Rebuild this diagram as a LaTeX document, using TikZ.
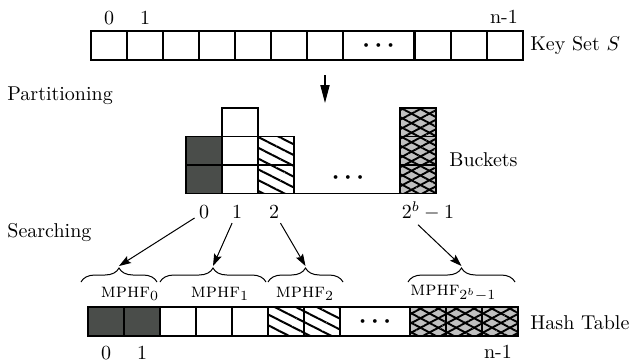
\documentclass[tikz,border=0pt]{standalone}
\usetikzlibrary{arrows.meta,patterns.meta,decorations.pathreplacing}
\definecolor{darkc}{RGB}{74,77,74}
\definecolor{grayc}{RGB}{192,192,192}
\newcommand{\mydots}{{\large\boldmath$\cdots$}}
\begin{document}
\begin{tikzpicture}[x=0.5pt,y=-0.5pt,
 cell/.style={draw,line width=0.7pt,minimum width=18pt,minimum height=14.5pt,inner sep=0pt,outer sep=0pt,anchor=north west},
 bcell/.style={cell,minimum height=14.25pt},
 wide/.style={minimum width=35.5pt},
 darkcell/.style={fill=darkc},
 hatch/.style={preaction={pattern={Lines[angle=-27,distance=4.8pt,line width=1pt]}}},
 cross/.style={preaction={fill=grayc},preaction={pattern={Lines[angle=28,distance=4.2pt,line width=0.95pt]}},preaction={pattern={Lines[angle=-28,distance=4.2pt,line width=0.95pt]}}},
 idx/.style={inner sep=0pt},
 lab/.style={anchor=west,inner sep=0pt},
 blab/.style={inner sep=2pt},
 mp/.style={inner sep=0pt},
 arr/.style={-{Stealth[length=6pt,width=4pt,inset=1pt]},line width=0.5pt},
 bigarr/.style={-{Triangle[length=9pt,width=4.6pt]},line width=0.6pt},
 brc/.style={decorate,decoration={brace,amplitude=7pt},line width=0.5pt},
 ]
\useasboundingbox (0,0) rectangle (637,361);
% key set
\foreach \i [count=\k] in {0,...,6} { \node[cell] (k\k) at ({91+36*\i},31) {}; }
\node[cell,wide] (kd) at (343,31) {\mydots};
\node[cell] (k8) at (415,31) {};
\node[cell] (k9) at (451,31) {};
\node[cell] (k10) at (487,31) {};
\node[idx] (ki0) at (109,18) {0};
\node[idx] (ki1) at (145,18) {1};
\node[idx] (kin) at (504,17) {n-1};
\node[lab] (keyset) at (530,45) {Key Set $S$};
% arrow
\coordinate (a1) at (325,75);
\coordinate (a2) at (325,103);
\draw[bigarr] (a1) -- (a2);
\node[lab] (part) at (7,96) {Partitioning};
% buckets
\node[bcell,darkcell] (b0a) at (186,136.5) {};
\node[bcell,darkcell] (b0b) at (186,165) {};
\node[bcell] (b1a) at (222,108) {};
\node[bcell] (b1b) at (222,136.5) {};
\node[bcell] (b1c) at (222,165) {};
\node[bcell,hatch] (b2a) at (258,136.5) {};
\node[bcell,hatch] (b2b) at (258,165) {};
\node[bcell,cross] (b3a) at (400,108) {};
\node[bcell,cross] (b3b) at (400,136.5) {};
\node[bcell,cross] (b3c) at (400,165) {};
\draw[line width=0.7pt] (b2b.south east) -- (b3c.south west);
\node (bdots) at (348,178) {\mydots};
\node[lab] (buckets) at (449,160) {Buckets};
\node[blab] (bl0) at (204,212) {0};
\node[blab] (bl1) at (237,212) {1};
\node[blab] (bl2) at (274,212) {2};
\node[blab] (bl3) at (428,211) {$2^b-1$};
\node[lab] (search) at (7,232) {Searching};
% braces
\draw[brc] (81,282) -- (157,282);
\draw[brc] (160,282) -- (266,282);
\draw[brc] (268,282) -- (343,282);
\draw[brc] (408,282) -- (515,282);
\coordinate (t0) at (119,266);
\coordinate (t1) at (213,266);
\coordinate (t2) at (305.5,266);
\coordinate (t3) at (461.5,266);
\draw[arr] (bl0) -- (t0);
\draw[arr] (bl1) -- (t1);
\draw[arr] (bl2) -- (t2);
\draw[arr] ([xshift=-5pt]bl3.south) -- (t3);
\node[mp] (m0) at (130,294) {\textsc{mphf}$_0$};
\node[mp] (m1) at (220,294) {\textsc{mphf}$_1$};
\node[mp] (m2) at (305,294) {\textsc{mphf}$_2$};
\node[mp,anchor=west] (m3) at (410,293) {\textsc{mphf}$_{2^b-1}$};
% hash table
\node[cell,darkcell] (h1) at (88,307) {};
\node[cell,darkcell] (h2) at (124,307) {};
\node[cell] (h3) at (160,307) {};
\node[cell] (h4) at (196,307) {};
\node[cell] (h5) at (232,307) {};
\node[cell,hatch] (h6) at (268,307) {};
\node[cell,hatch] (h7) at (304,307) {};
\node[cell,minimum width=35pt] (hd) at (340,307) {\mydots};
\node[cell,cross] (h8) at (410,307) {};
\node[cell,cross] (h9) at (446,307) {};
\node[cell,cross] (h10) at (482,307) {};
\node[idx] (hi0) at (106,353) {0};
\node[idx] (hi1) at (142,353) {1};
\node[idx] (hin) at (498,352) {n-1};
\node[lab] (hash) at (530,323) {Hash Table};
\end{tikzpicture}
\end{document}
